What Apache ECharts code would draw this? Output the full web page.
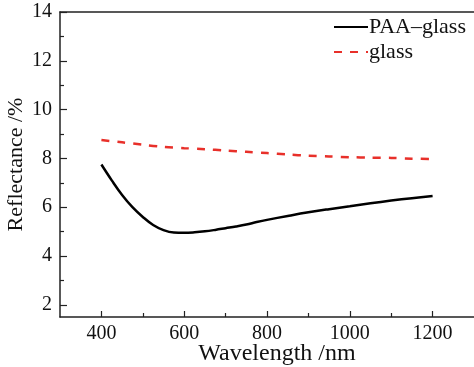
<!DOCTYPE html>
<html><head><meta charset="utf-8">
<script src="https://cdn.jsdelivr.net/npm/echarts@6/dist/echarts.min.js"></script>
<style>html,body{margin:0;padding:0;background:#fff;overflow:hidden}#c{width:474px;height:367px}</style>
</head><body><div id="c"></div>
<script>
var wavelength = [400,425,450,475,500,525,550,575,600,625,650,675,700,725,750,775,800,850,900,950,1000,1050,1100,1150,1200];
var paaGlass = [7.75,7.1,6.5,6.0,5.6,5.27,5.06,4.96,4.95,4.97,5.01,5.07,5.14,5.21,5.29,5.39,5.48,5.64,5.79,5.92,6.04,6.16,6.27,6.37,6.46];
var glassWl = [400,450,500,550,600,650,700,750,800,850,900,950,1000,1050,1100,1150,1200];
var glass = [8.75,8.66,8.56,8.47,8.42,8.38,8.32,8.27,8.22,8.16,8.11,8.08,8.05,8.03,8.02,7.99,7.97];
var xMajor = [400,600,800,1000,1200];
var xMinor = [500,700,900,1100];
var yMajor = [2,4,6,8,10,12,14];
var yMinor = [3,5,7,9,11,13];

var font = 'Liberation Serif';
var axisCol = '#222';
function pairs(xs, ys){ return xs.map(function(x,i){return [x, ys[i]];}); }
function plain(v){ return String(v); }

var chart = echarts.init(document.getElementById('c'), null, {renderer:'canvas'});
chart.setOption({
  backgroundColor: '#fff',
  animation: false,
  textStyle: {fontFamily: font},
  grid: {left: 60, top: 12, right: 0, bottom: 50, containLabel: false, outerBoundsMode: 'none', show: false},
  legend: {
    orient: 'vertical', left: 328, top: 11, itemWidth: 34, itemHeight: 14, itemGap: 3,
    itemStyle: {opacity: 0},
    textStyle: {fontFamily: font, fontSize: 22, color: '#111', padding: [0,0,0,-4]},
    data: ['PAA\u2013glass','glass']
  },
  xAxis: [{
    type: 'value', min: 300, max: 1300, position: 'bottom',
    name: 'Wavelength /nm', nameLocation: 'middle', nameGap: 25, nameMoveOverlap: false,
    nameTextStyle: {fontFamily: font, fontSize: 24, color: '#111', padding: [0,0,0,20]},
    axisLine: {show: true, lineStyle: {color: axisCol, width: 1.5}},
    axisTick: {show: true, inside: true, length: 6, lineStyle: {color: axisCol, width: 1.2}, customValues: xMajor},
    axisLabel: {fontFamily: font, fontSize: 20, color: '#111', margin: 7, customValues: xMajor, formatter: plain},
    splitLine: {show: false}
  },{
    type: 'value', min: 300, max: 1300, position: 'bottom', offset: 0,
    axisLine: {show: false},
    axisTick: {show: true, inside: true, length: 4, lineStyle: {color: axisCol, width: 1.2}, customValues: xMinor},
    axisLabel: {show: false, customValues: xMinor},
    splitLine: {show: false}
  },{
    type: 'value', min: 300, max: 1300, position: 'top', offset: 0,
    axisLine: {show: true, lineStyle: {color: axisCol, width: 1.5}},
    axisTick: {show: false}, axisLabel: {show: false}, splitLine: {show: false}
  }],
  yAxis: [{
    type: 'value', min: 1.5, max: 14, position: 'left',
    name: 'Reflectance /%', nameLocation: 'middle', nameGap: 33, nameMoveOverlap: false,
    nameTextStyle: {fontFamily: font, fontSize: 22, color: '#111'},
    axisLine: {show: true, lineStyle: {color: axisCol, width: 1.5}},
    axisTick: {show: true, inside: true, length: 7, lineStyle: {color: axisCol, width: 1.2}, customValues: yMajor},
    axisLabel: {fontFamily: font, fontSize: 20, color: '#111', margin: 8, customValues: yMajor, formatter: plain},
    splitLine: {show: false}
  },{
    type: 'value', min: 1.5, max: 14, position: 'left', offset: 0,
    axisLine: {show: false},
    axisTick: {show: true, inside: true, length: 4, lineStyle: {color: axisCol, width: 1.2}, customValues: yMinor},
    axisLabel: {show: false, customValues: yMinor},
    splitLine: {show: false}
  }],
  series: [{
    name: 'PAA\u2013glass', type: 'line', xAxisIndex: 0, yAxisIndex: 0,
    data: pairs(wavelength, paaGlass), smooth: 0.4, symbol: 'none',
    lineStyle: {color: '#000', width: 2.5}, itemStyle: {color: '#000'}
  },{
    name: 'glass', type: 'line', xAxisIndex: 0, yAxisIndex: 0,
    data: pairs(glassWl, glass), smooth: 0.3, symbol: 'none',
    lineStyle: {color: '#e8302a', width: 2.5, type: [8,8]}, itemStyle: {color: '#e8302a'}
  }]
});
</script></body></html>
